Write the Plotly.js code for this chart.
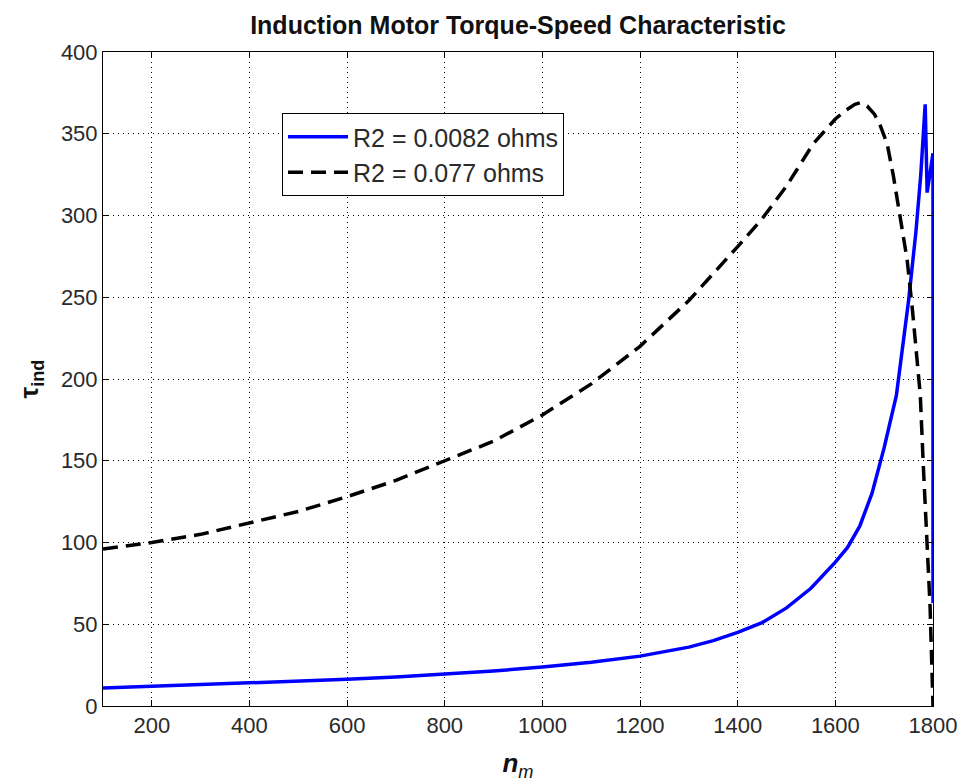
<!DOCTYPE html>
<html>
<head>
<meta charset="utf-8">
<script src="https://cdn.plot.ly/plotly-3.0.1.min.js"></script>
<style>html,body{margin:0;padding:0;background:#fff;}#chart{width:958px;height:782px;}</style>
</head>
<body>
<div id="chart"></div>
<script>
// R2 = 0.0082 ohms (solid blue)
const speedLow = [100,200,300,400,500,600,700,800,900,1000,1100,1200,1250,1300,1350,1400,1450,1500,1550,1600,1625,1650,1675,1700,1725,1750,1765,1775,1784,1788,1800,1800];
const torqueLow = [11,12,12.8,13.8,15,16.3,17.7,19.4,21.4,23.8,26.8,30.5,33,36,40,45,51,60,72,88,97,110,130,158,190,248,290,325,368,314,338,63];
// R2 = 0.077 ohms (dashed black)
const speedHigh = [100,200,300,400,500,600,700,800,900,1000,1100,1200,1300,1400,1450,1500,1555,1600,1620,1640,1651,1665,1680,1692,1706,1719,1733,1747,1758,1768,1774,1780,1788,1794,1800];
const torqueHigh = [96,100,105,112,119,128,138,150,162,178,197,220,248,281,298,318,344,359,364,368,369,367,362,355,344,324,299,273,242,212,190,148,101,61,0];

const xTicks = [200,400,600,800,1000,1200,1400,1600,1800];
const yTicks = [0,50,100,150,200,250,300,350,400];
const seriesNames = ['R2 = 0.0082 ohms', 'R2 = 0.077 ohms'];

const traces = [
  {x: speedLow, y: torqueLow, type: 'scatter', mode: 'lines', name: seriesNames[0],
   line: {color: '#0000ff', width: 3.5}},
  {x: speedHigh, y: torqueHigh, type: 'scatter', mode: 'lines', name: seriesNames[1],
   line: {color: '#000000', width: 3.5, dash: '15px,8px'}}
];

const axisCommon = {
  showline: true, linecolor: '#000', linewidth: 1, mirror: 'ticks',
  ticks: 'inside', ticklen: 6, tickcolor: '#000', tickwidth: 1,
  showgrid: true, gridcolor: '#000', gridwidth: 1, griddash: '1px,4px',
  zeroline: false,
  tickfont: {family: 'Liberation Sans, Arial, sans-serif', size: 22, color: '#2a2a2a'}
};

const layout = {
  width: 958, height: 782,
  paper_bgcolor: '#fff', plot_bgcolor: '#fff',
  margin: {l: 103, r: 25, t: 52, b: 76},
  title: {text: '<b>Induction Motor Torque-Speed Characteristic</b>',
    font: {family: 'Liberation Sans, Arial, sans-serif', size: 25, color: '#111'},
    x: 0.5, xref: 'paper', xanchor: 'center', y: 0.968, yref: 'container', yanchor: 'middle'},
  xaxis: Object.assign({}, axisCommon, {
    range: [100, 1800], tickvals: xTicks, ticktext: xTicks.map(String),
    title: {text: '<b><i>n</i></b><sub><i>m</i></sub>', standoff: 16,
      font: {family: 'Liberation Sans, Arial, sans-serif', size: 26, color: '#111'}}
  }),
  yaxis: Object.assign({}, axisCommon, {
    range: [0, 400], tickvals: yTicks, ticktext: yTicks.map(String),
    title: {text: '<b>τ<sub>ind</sub></b>', standoff: 14,
      font: {family: 'Liberation Sans, Arial, sans-serif', size: 26, color: '#111'}}
  }),
  showlegend: true,
  legend: {x: 0.2157, y: 0.9067, xanchor: 'left', yanchor: 'top',
    bgcolor: '#fff', bordercolor: '#000', borderwidth: 1,
    font: {family: 'Liberation Sans, Arial, sans-serif', size: 25, color: '#2a2a2a'},
    itemwidth: 60}
};

Plotly.newPlot('chart', traces, layout, {displayModeBar: false, staticPlot: true});
</script>
</body>
</html>
